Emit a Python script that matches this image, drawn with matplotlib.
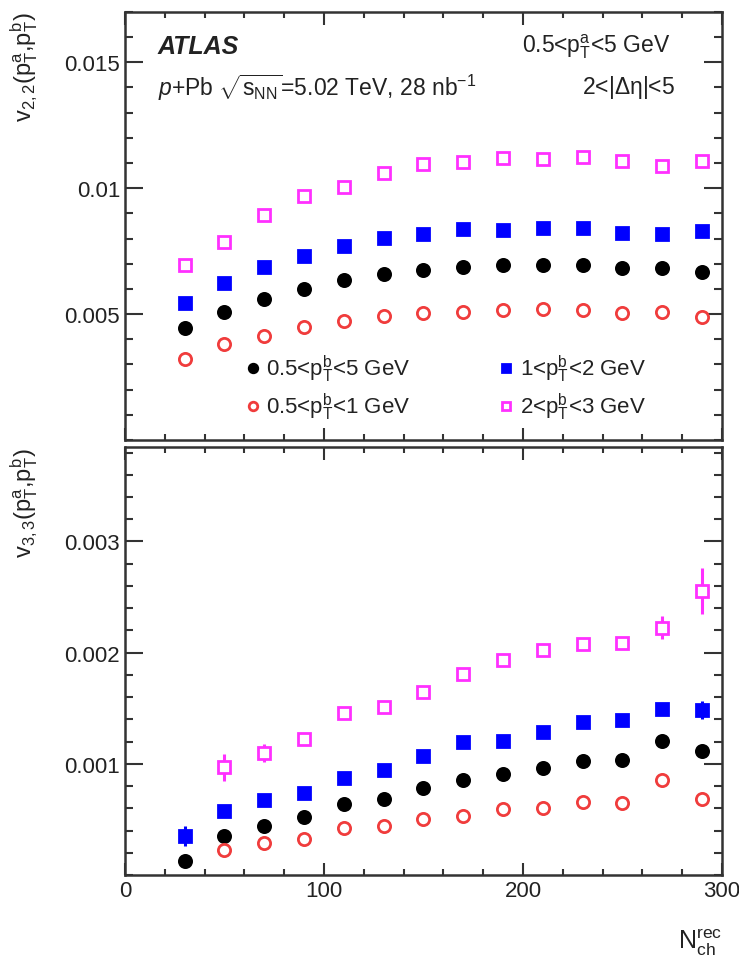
import numpy as np
import matplotlib
matplotlib.use("Agg")
import matplotlib.pyplot as plt
from matplotlib.ticker import MultipleLocator

plt.rcParams['font.family'] = ['Liberation Sans', 'DejaVu Sans']
plt.rcParams['mathtext.fontset'] = 'custom'
plt.rcParams['mathtext.rm'] = 'Liberation Sans'
plt.rcParams['mathtext.it'] = 'Liberation Sans:italic'
plt.rcParams['mathtext.bf'] = 'Liberation Sans:bold'
plt.rcParams['mathtext.default'] = 'regular'

# N_ch^rec bin centres
nch = [30, 50, 70, 90, 110, 130, 150, 170, 190, 210, 230, 250, 270, 290]

# v2,2 (top panel)
v22_05_5 = [0.00443, 0.00509, 0.00560, 0.00599, 0.00635, 0.00659, 0.00676, 0.00685,
            0.00694, 0.00696, 0.00694, 0.00681, 0.00681, 0.00668]
v22_05_1 = [0.00321, 0.00381, 0.00414, 0.00447, 0.00473, 0.00493, 0.00504, 0.00509,
            0.00517, 0.00519, 0.00516, 0.00503, 0.00507, 0.00489]
v22_1_2 = [0.00544, 0.00623, 0.00685, 0.00729, 0.00769, 0.00803, 0.00818, 0.00837,
           0.00835, 0.00841, 0.00841, 0.00820, 0.00818, 0.00829]
v22_2_3 = [0.00694, 0.00785, 0.00893, 0.00967, 0.01005, 0.01062, 0.01095, 0.01102,
           0.01119, 0.01115, 0.01122, 0.01108, 0.01089, 0.01108]

# v3,3 (bottom panel)
v33_05_5 = [0.000123, 0.000353, 0.000443, 0.000518, 0.000638, 0.000683, 0.000782,
            0.000857, 0.000907, 0.000961, 0.001027, 0.001036, 0.001201, 0.001117]
v33_05_1 = [np.nan, 0.000228, 0.000285, 0.000323, 0.000420, 0.000437, 0.000503,
            0.000527, 0.000593, 0.000599, 0.000653, 0.000647, 0.000854, 0.000683]
v33_1_2 = [0.000348, 0.000572, 0.000677, 0.000737, 0.000877, 0.000943, 0.001066,
           0.001192, 0.001201, 0.001282, 0.001378, 0.001393, 0.001497, 0.001482]
v33_2_3 = [np.nan, 0.000968, 0.001096, 0.001222, 0.001456, 0.001514, 0.001650,
           0.001806, 0.001932, 0.002022, 0.002075, 0.002091, 0.002226, 0.002554]

e33_05_5 = [0.00002] * 13 + [0.00003]
e33_05_1 = [0, 0.00002, 0.00002, 0.00002, 0.00002, 0.00002, 0.00002, 0.00002,
            0.00002, 0.00002, 0.00002, 0.00002, 0.00004, 0.00005]
e33_1_2 = [0.00009, 0.00002, 0.00002, 0.00002, 0.00002, 0.00002, 0.00002, 0.00002,
           0.00002, 0.00002, 0.00002, 0.00002, 0.00003, 0.00008]
e33_2_3 = [0, 0.00012, 0.00008, 0.00005, 0.00003, 0.00003, 0.00003, 0.00003,
           0.00003, 0.00003, 0.00003, 0.00003, 0.00010, 0.00021]

labels = [r'0.5<p$_{T}^{b}$<5 GeV', r'0.5<p$_{T}^{b}$<1 GeV',
          r'1<p$_{T}^{b}$<2 GeV', r'2<p$_{T}^{b}$<3 GeV']

red = '#f03c3c'
mag = '#ff30ff'
txt = '#222222'

# (color, marker, filled)
styles = [('black', 'o', True), (red, 'o', False), ('#0000ff', 's', True), (mag, 's', False)]

fig = plt.figure(figsize=(7.39, 9.62), dpi=100)
ax1 = fig.add_axes([0.169, 0.5416, 0.808, 0.445])
ax2 = fig.add_axes([0.169, 0.0894, 0.808, 0.4449])


def draw(ax, series, errs):
    for (c, m, filled), y, e, lab in zip(styles, series, errs, labels):
        ax.errorbar(nch, y, yerr=e, fmt=m, ms=8.8 if m == 'o' else 8.5,
                    mfc=c if filled else 'white', mec=c, mew=2.0, color=c,
                    ecolor=c, elinewidth=2.2, capsize=0, label=lab, zorder=3)


draw(ax1, [v22_05_5, v22_05_1, v22_1_2, v22_2_3], [None] * 4)
draw(ax2, [v33_05_5, v33_05_1, v33_1_2, v33_2_3], [e33_05_5, e33_05_1, e33_1_2, e33_2_3])

for ax in (ax1, ax2):
    ax.set_xlim(0, 300)
    ax.xaxis.set_major_locator(MultipleLocator(100))
    ax.xaxis.set_minor_locator(MultipleLocator(20))
    ax.tick_params(which='both', direction='in', top=True, right=True,
                   colors='#333333', labelcolor=txt, labelsize=16, width=1.5)
    ax.tick_params(axis='y', which='major', length=13)
    ax.tick_params(axis='y', which='minor', length=6)
    ax.tick_params(axis='x', which='major', length=9)
    ax.tick_params(axis='x', which='minor', length=4.5)
    for s in ax.spines.values():
        s.set_linewidth(1.8)
        s.set_color('#333333')

ax1.set_ylim(0, 0.017)
ax1.yaxis.set_major_locator(MultipleLocator(0.005))
ax1.yaxis.set_minor_locator(MultipleLocator(0.001))
ax1.set_yticks([0.005, 0.01, 0.015])
ax1.set_yticklabels(['0.005', '0.01', '0.015'])
ax1.tick_params(axis='x', labelbottom=False)

ax2.set_ylim(0, 0.00385)
ax2.yaxis.set_major_locator(MultipleLocator(0.001))
ax2.yaxis.set_minor_locator(MultipleLocator(0.0002))
ax2.set_yticks([0.001, 0.002, 0.003])
ax2.set_yticklabels(['0.001', '0.002', '0.003'])

ax1.set_ylabel(r'v$_{2,2}$(p$_{T}^{a}$,p$_{T}^{b}$)', fontsize=17, color=txt, loc='top')
ax1.yaxis.set_label_coords(-0.142, 1.0)
ax2.set_ylabel(r'v$_{3,3}$(p$_{T}^{a}$,p$_{T}^{b}$)', fontsize=17, color=txt, loc='top')
ax2.yaxis.set_label_coords(-0.142, 1.0)
ax2.set_xlabel(r'N$_{ch}^{rec}$', fontsize=18, color=txt, loc='right')
ax2.xaxis.set_label_coords(1.0, -0.12)

ax1.text(0.055, 0.92, 'ATLAS', transform=ax1.transAxes, fontsize=18,
         fontweight='bold', style='italic', color=txt, va='center')
ax1.text(0.055, 0.825, r'$\mathit{p}$+Pb $\sqrt{s_{NN}}$=5.02 TeV, 28 nb$^{-1}$',
         transform=ax1.transAxes, fontsize=16.5, color=txt, va='center')
ax1.text(0.913, 0.92, r'0.5<p$_{T}^{a}$<5 GeV', transform=ax1.transAxes,
         fontsize=16.5, color=txt, va='center', ha='right')
ax1.text(0.921, 0.825, r'2<|$\Delta\eta$|<5', transform=ax1.transAxes,
         fontsize=16.5, color=txt, va='center', ha='right')

leg = ax1.legend(ncol=2, loc='lower left', bbox_to_anchor=(0.17, -0.005),
                 frameon=False, fontsize=16, markerscale=0.7, handlelength=0.6,
                 handletextpad=0.3, columnspacing=4.0, labelspacing=0.3)
for t in leg.get_texts():
    t.set_color(txt)

fig.savefig('out.png', dpi=100)
